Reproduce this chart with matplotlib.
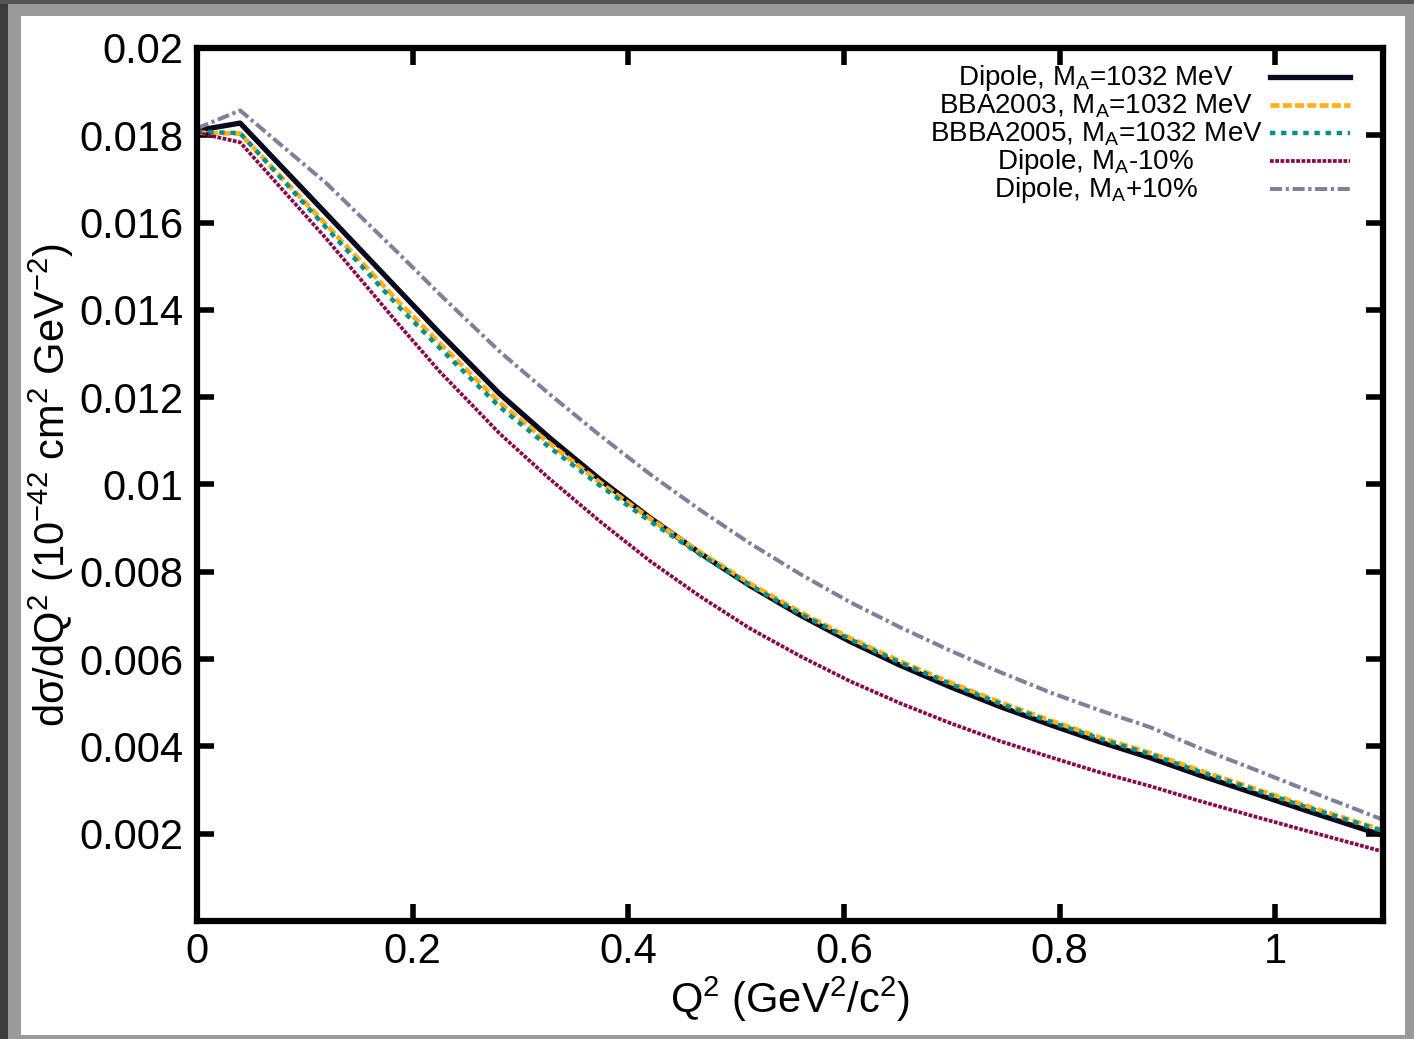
import numpy as np
import matplotlib
matplotlib.use("Agg")
import matplotlib.pyplot as plt
from matplotlib.patches import Rectangle

plt.rcParams['font.family'] = ['Liberation Sans', 'DejaVu Sans']
plt.rcParams['mathtext.fontset'] = 'custom'
plt.rcParams['mathtext.rm'] = 'Liberation Sans'
plt.rcParams['mathtext.it'] = 'Liberation Sans'

# Q^2 grid (GeV^2/c^2)
q2 = [0.0, 0.04, 0.12, 0.188, 0.225, 0.281, 0.327, 0.374, 0.420, 0.467, 0.513,
      0.560, 0.606, 0.652, 0.699, 0.745, 0.792, 0.838, 0.884, 0.930, 0.98, 1.03, 1.1]

dipole = [0.01811, 0.01828, 0.01620, 0.01443, 0.01347, 0.01207, 0.01107, 0.01011,
          0.00924, 0.00842, 0.00768, 0.00700, 0.00640, 0.00586, 0.00536, 0.00491,
          0.00449, 0.00410, 0.00374, 0.00334, 0.00293, 0.00252, 0.00196]
bba2003 = [0.01806, 0.01804, 0.01595, 0.01416, 0.01324, 0.01187, 0.01094, 0.01004,
           0.00922, 0.00844, 0.00773, 0.00707, 0.00648, 0.00595, 0.00546, 0.00501,
           0.00459, 0.00420, 0.00385, 0.00345, 0.00304, 0.00263, 0.00208]
bbba2005 = [0.01808, 0.01805, 0.01588, 0.01405, 0.01313, 0.01177, 0.01085, 0.00997,
            0.00916, 0.00839, 0.00769, 0.00703, 0.00645, 0.00592, 0.00543, 0.00498,
            0.00456, 0.00417, 0.00382, 0.00342, 0.00301, 0.00260, 0.00206]
ma_minus = [0.01806, 0.01784, 0.01563, 0.01364, 0.01259, 0.01116, 0.01013, 0.00915,
            0.00825, 0.00743, 0.00670, 0.00606, 0.00549, 0.00499, 0.00453, 0.00412,
            0.00375, 0.00340, 0.00309, 0.00275, 0.00240, 0.00206, 0.00159]
ma_plus = [0.01816, 0.01857, 0.01690, 0.01527, 0.01436, 0.01304, 0.01207, 0.01112,
           0.01024, 0.00941, 0.00865, 0.00794, 0.00730, 0.00673, 0.00619, 0.00570,
           0.00523, 0.00482, 0.00444, 0.00396, 0.00348, 0.00299, 0.00232]

labels = [r'Dipole, M$_\mathrm{A}$=1032 MeV',
          r'BBA2003, M$_\mathrm{A}$=1032 MeV',
          r'BBBA2005, M$_\mathrm{A}$=1032 MeV',
          r'Dipole, M$_\mathrm{A}$-10%',
          r'Dipole, M$_\mathrm{A}$+10%']

xticks = [0, 0.2, 0.4, 0.6, 0.8, 1.0]
xticklabels = ['0', '0.2', '0.4', '0.6', '0.8', '1']
yticks = [0.002, 0.004, 0.006, 0.008, 0.01, 0.012, 0.014, 0.016, 0.018, 0.02]
yticklabels = ['0.002', '0.004', '0.006', '0.008', '0.01', '0.012', '0.014',
               '0.016', '0.018', '0.02']

W, H = 1414, 1039
fig = plt.figure(figsize=(W / 100, H / 100), dpi=100, facecolor='#9a9a9a')

# window frame
fig.patches.append(Rectangle((0, 0), 8 / W, 1, transform=fig.transFigure,
                             facecolor='#3c3c3c', edgecolor='none', zorder=-10))
fig.patches.append(Rectangle((0, 1 - 4 / H), 1, 4 / H, transform=fig.transFigure,
                             facecolor='#555555', edgecolor='none', zorder=-10))
fig.patches.append(Rectangle((21 / W, 4 / H), (1405 - 21) / W, (1035 - 16) / H,
                             transform=fig.transFigure, facecolor='white',
                             edgecolor='none', zorder=-10))

ax = fig.add_axes([197 / W, 1 - 921 / H, (1383 - 197) / W, (921 - 48) / H])
ax.set_zorder(1)

styles = [
    dict(color='#0a0a1e', lw=3.8, ls='-'),
    dict(color='#ffb01a', lw=3.4, ls=(0, (1.9, 0.7))),
    dict(color='#009090', lw=3.2, ls=(0, (1.2, 1.3))),
    dict(color='#880a4a', lw=2.7, ls=(0, (1.0, 0.4))),
    dict(color='#80809a', lw=2.9, ls=(0, (3.0, 0.9, 0.8, 0.9))),
]
series = [dipole, bba2003, bbba2005, ma_minus, ma_plus]
for i in range(len(series)):
    ax.plot(q2, series[i], **styles[i])

ax.set_xlim(0, 1.1)
ax.set_ylim(0, 0.02)
ax.set_xticks(xticks)
ax.set_xticklabels(xticklabels)
ax.set_yticks(yticks)
ax.set_yticklabels(yticklabels)
ax.tick_params(direction='in', length=12, width=4, labelsize=30,
               top=True, right=True)
ax.tick_params(axis='x', pad=8)
ax.tick_params(axis='y', pad=10)
for s in ax.spines.values():
    s.set_linewidth(4.5)

ax.set_xlabel(r'Q$^2$ (GeV$^2$/c$^2$)', fontsize=30, labelpad=2)
ax.set_ylabel(r'd$\sigma$/dQ$^2$ (10$^{-42}$ cm$^2$ GeV$^{-2}$)', fontsize=30,
              labelpad=2)

# legend, gnuplot style: centred text, sample line on the right
ax0, ax1 = 197, 1383
ay0, ay1 = 48, 921
def to_ax(px, py):
    return (px - ax0) / (ax1 - ax0), (ay1 - py) / (ay1 - ay0)

rows = [78, 106, 134, 162, 190]
for i, (lab, yy) in enumerate(zip(labels, rows)):
    tx, ty = to_ax(1096, yy)
    ax.text(tx, ty, lab, transform=ax.transAxes, ha='center', va='center',
            fontsize=20)
    lx0, ly = to_ax(1270, yy - 1)
    lx1, _ = to_ax(1350, yy - 1)
    ax.plot([lx0, lx1], [ly, ly], transform=ax.transAxes, **styles[i])

fig.savefig('out.png', dpi=100, facecolor=fig.get_facecolor())
